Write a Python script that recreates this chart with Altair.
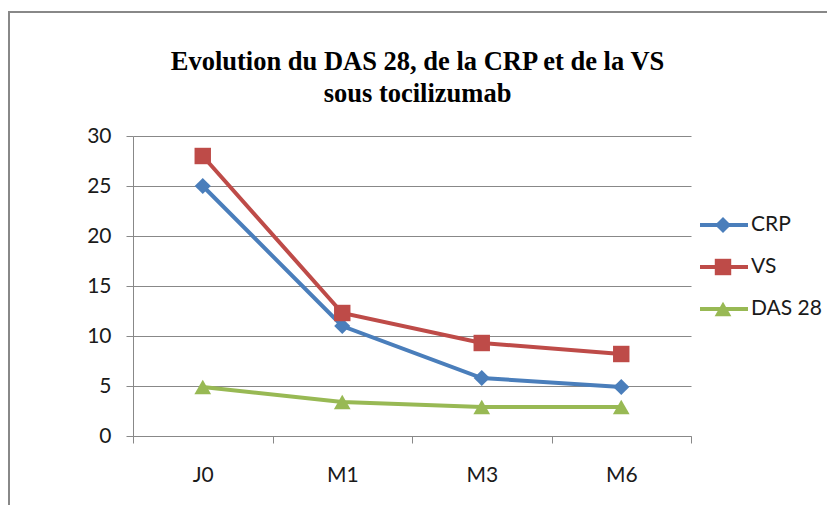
import altair as alt
import pandas as pd

periods = ["J0", "M1", "M3", "M6"]
series_names = ["CRP", "VS", "DAS 28"]
crp = [25.0, 11.0, 5.8, 4.9]
vs = [28.0, 12.3, 9.3, 8.2]
das28 = [4.9, 3.4, 2.9, 2.9]
y_ticks = [0, 5, 10, 15, 20, 25, 30]
title_lines = ["Evolution du DAS 28, de la CRP et de la VS", "sous tocilizumab"]

colors = ["#4A7EBB", "#BE4B48", "#98B954"]
shapes = ["diamond", "square", "triangle-up"]
marker_sizes = [260, 280, 300]

rows = []
for name, vals in zip(series_names, [crp, vs, das28]):
    for p, v in zip(periods, vals):
        rows.append({"periode": p, "serie": name, "valeur": v})
df = pd.DataFrame(rows)
legend_df = pd.DataFrame({"serie": series_names})

color_enc = alt.Color("serie:N", scale=alt.Scale(domain=series_names, range=colors), legend=None)
shape_enc = alt.Shape("serie:N", scale=alt.Scale(domain=series_names, range=shapes), legend=None)
size_enc = alt.Size("serie:N", scale=alt.Scale(domain=series_names, range=marker_sizes), legend=None)

x_enc = alt.X("periode:N", sort=periods, title=None,
              scale=alt.Scale(paddingInner=0, paddingOuter=0),
              axis=alt.Axis(labelAngle=0, tickBand="extent", grid=False,
                            labelPadding=21, tickSize=7))
y_scale = alt.Scale(domain=[0, 30], nice=False)
y_enc = alt.Y("valeur:Q", title=None, scale=y_scale,
              axis=alt.Axis(values=y_ticks, tickSize=7, labelPadding=15, grid=True))
y_enc_noaxis = alt.Y("valeur:Q", title=None, scale=y_scale, axis=None)

base = alt.Chart(df)
lines = base.mark_line(strokeWidth=4).encode(x=x_enc, y=y_enc, color=color_enc)
points = base.mark_point(filled=True, opacity=1).encode(
    x=x_enc, y=y_enc_noaxis, color=color_enc, shape=shape_enc, size=size_enc)

# legend drawn from its own small table
leg_y = alt.Y("serie:N", axis=None, sort=series_names,
              scale=alt.Scale(type="point", domain=series_names, range=[89, 173], padding=0))
leg_base = alt.Chart(legend_df)
leg_lines = leg_base.mark_rule(strokeWidth=4).encode(
    x=alt.value(567), x2=alt.value(615), y=leg_y, color=color_enc)
leg_points = leg_base.mark_point(filled=True, opacity=1).encode(
    x=alt.value(590), y=leg_y, color=color_enc, shape=shape_enc, size=size_enc)
leg_text = leg_base.mark_text(align="left", baseline="middle", font="Lato",
                              fontSize=21, color="#1a1a1a").encode(
    x=alt.value(618), y=leg_y, text="serie:N")

single = alt.Chart(alt.Data(values=[{"k": 1}]))
title_mark = single.mark_text(align="center", baseline="alphabetic",
                              font="Liberation Serif", fontSize=26.5, fontWeight="bold",
                              color="#000000", lineHeight=31.5).encode(
    x=alt.value(284.5), y=alt.value(-66), text=alt.value(title_lines))
border_top = single.mark_rule(color="#888888", strokeWidth=2).encode(
    x=alt.value(-124), x2=alt.value(700), y=alt.value(-124))
border_left = single.mark_rule(color="#888888", strokeWidth=2).encode(
    x=alt.value(-124), y=alt.value(-125), y2=alt.value(400))

chart = alt.layer(
    border_top, border_left, title_mark, lines, points, leg_lines, leg_points, leg_text
).resolve_scale(y="independent").properties(
    width=558, height=300,
    autosize=alt.AutoSizeParams(type="none"),
    padding={"left": 125, "top": 128, "right": 136, "bottom": 69},
).configure_view(stroke=None).configure_axis(
    domainColor="#888888", tickColor="#888888", gridColor="#888888",
    gridWidth=1, domainWidth=1, tickWidth=1,
    labelFont="Lato", labelFontSize=21, labelColor="#1a1a1a",
)

chart.save("out.html", embed_options={"renderer": "svg", "actions": False})
